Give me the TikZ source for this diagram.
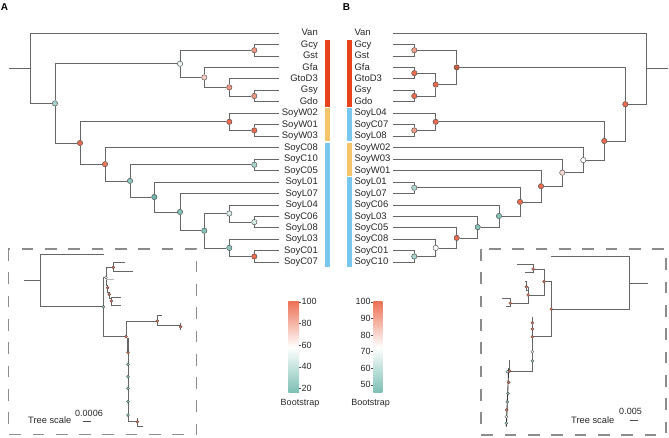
\documentclass[tikz,border=0pt]{standalone}
\usepackage{fontspec}
\setmainfont{Liberation Sans}
\definecolor{lineG}{HTML}{666666}
\definecolor{bsR}{HTML}{EC6B4E}
\definecolor{bsT}{HTML}{6DB8AC}
\definecolor{barR}{HTML}{E8421D}
\definecolor{barY}{HTML}{F6C46B}
\definecolor{barB}{HTML}{79C7EE}
\definecolor{boxG}{HTML}{8C8C8C}
\tikzset{
  br/.style={draw=lineG, line width=0.8pt},
  ib/.style={draw=lineG, line width=0.6pt},
  bsn/.style={circle, draw=black!70, line width=0.45pt, inner sep=0pt, minimum size=5.4pt},
  sdot/.style={circle, draw=black!70, line width=0.35pt, inner sep=0pt, minimum size=3pt},
  leafA/.style={anchor=mid east, inner sep=0pt, text=black!85, font=\fontsize{9.5}{11}\selectfont},
  leafB/.style={anchor=mid west, inner sep=0pt, text=black!85, font=\fontsize{9.5}{11}\selectfont},
  small/.style={inner sep=0pt, text=black!85, font=\fontsize{9}{10}\selectfont},
  dbox/.style={draw=boxG, line width=1.4pt, dash pattern=on 11.7pt off 11.6pt},
  gradbar/.style={top color=bsR!95!white, bottom color=bsT!90!white, middle color=white},
}
\begin{document}
\begin{tikzpicture}[x=1pt,y=-1pt]
\useasboundingbox (0,0) rectangle (669,437);
% panel letters
\node[font=\bfseries\fontsize{10}{12}\selectfont] (labA) at (4.5,7) {A};
\node[font=\bfseries\fontsize{10}{12}\selectfont] (labB) at (346.5,7) {B};

% ---------------- Tree A ----------------
\foreach \i/\nm in {0/Van,1/Gcy,2/Gst,3/Gfa,4/GtoD3,5/Gsy,6/Gdo,7/SoyW02,8/SoyW01,9/SoyW03,10/SoyC08,11/SoyC10,12/SoyC05,13/SoyL01,14/SoyL07,15/SoyL04,16/SoyC06,17/SoyL08,18/SoyL03,19/SoyC01,20/SoyC07}{
  \coordinate (la\i) at (279,{33+11.46*\i});
  \node[leafA] (ta\i) at (318,{33+11.46*\i}) {\nm};
}
\coordinate (sA) at (9,68.2);
\coordinate (rA) at (30,68.2);
\node[bsn, fill=bsT!60!white] (nA1) at (55,103.4) {};
\node[bsn, fill=bsT!15!white] (nA2) at (180,63.8) {};
\node[bsn, fill=bsR!70!white] (nA4) at (254.3,50.2) {};
\node[bsn, fill=bsR!35!white] (nA5) at (204.3,77.4) {};
\node[bsn, fill=bsR!70!white] (nA6) at (229.3,87.4) {};
\node[bsn, fill=bsR!70!white] (nA7) at (254.3,96.0) {};
\node[bsn, fill=bsR] (nA3) at (80,143) {};
\node[bsn, fill=bsR] (nA8) at (229.3,121.8) {};
\node[bsn, fill=bsR] (nA10) at (254.3,130.4) {};
\node[bsn, fill=bsR!92!white] (nA9) at (105,164.2) {};
\node[bsn, fill=bsT!80!white] (nA11) at (130,180.9) {};
\node[bsn, fill=bsT!60!white] (nA12) at (254.3,164.8) {};
\node[bsn, fill=bsT] (nA13) at (154.3,197) {};
\node[bsn, fill=bsT!85!white] (nA14) at (180,212) {};
\node[bsn, fill=bsT!85!white] (nA15) at (204.3,230.7) {};
\node[bsn, fill=bsT!25!white] (nA16) at (229.3,213.5) {};
\node[bsn, fill=bsT!30!white] (nA18) at (254.3,222.1) {};
\node[bsn, fill=bsT!80!white] (nA17) at (229.3,247.9) {};
\node[bsn, fill=bsR] (nA19) at (254.3,256.5) {};
\draw[br] (sA) -- (rA);
\foreach \p/\c in {rA/la0,rA/nA1,nA1/nA2,nA1/nA3,nA2/nA4,nA2/nA5,nA4/la1,nA4/la2,nA5/la3,nA5/nA6,nA6/la4,nA6/nA7,nA7/la5,nA7/la6,
  nA3/nA8,nA3/nA9,nA8/la7,nA8/nA10,nA10/la8,nA10/la9,nA9/la10,nA9/nA11,nA11/nA12,nA11/nA13,nA12/la11,nA12/la12,
  nA13/la13,nA13/nA14,nA14/la14,nA14/nA15,nA15/nA16,nA15/nA17,nA16/la15,nA16/nA18,nA18/la16,nA18/la17,nA17/la18,nA17/nA19,nA19/la19,nA19/la20}{
  \draw[br] (\p) |- (\c);
}
% clade bars A
\fill[barR] (325,39.5) rectangle (330,106.7);
\fill[barY] (325,108.2) rectangle (330,141.1);
\fill[barB] (325,142.6) rectangle (330,267.4);

% ---------------- Tree B ----------------
\foreach \i/\nm in {0/Van,1/Gcy,2/Gst,3/Gfa,4/GtoD3,5/Gsy,6/Gdo,7/SoyL04,8/SoyC07,9/SoyL08,10/SoyW02,11/SoyW03,12/SoyW01,13/SoyL01,14/SoyL07,15/SoyC06,16/SoyL03,17/SoyC05,18/SoyC08,19/SoyC01,20/SoyC10}{
  \coordinate (lb\i) at (393.3,{33+11.46*\i});
  \node[leafB] (tb\i) at (354.3,{33+11.46*\i}) {\nm};
}
\coordinate (sB) at (668,68.6);
\coordinate (rB) at (646.7,68.6);
\node[bsn, fill=bsR] (nB1) at (625.3,104.2) {};
\node[bsn, fill=bsR!85!black] (nB2) at (456.7,67.4) {};
\node[bsn, fill=bsR!65!white] (nB4) at (414.3,50.2) {};
\node[bsn, fill=bsR] (nB5) at (435.7,84.6) {};
\node[bsn, fill=bsR] (nB6) at (414.3,73.1) {};
\node[bsn, fill=bsR] (nB7) at (414.3,96.0) {};
\node[bsn, fill=bsR] (nB3) at (604.3,141) {};
\node[bsn, fill=bsR] (nB8) at (435.7,121.8) {};
\node[bsn, fill=bsR!65!white] (nB10) at (414.3,130.4) {};
\node[bsn, fill=bsT!6!white] (nB9) at (583.3,160.1) {};
\node[bsn, fill=bsR!25!white] (nB11) at (562.3,172.7) {};
\node[bsn, fill=bsR] (nB12) at (541,186.2) {};
\node[bsn, fill=bsR] (nB13) at (520,201.9) {};
\node[bsn, fill=bsT!55!white] (nB14) at (414.3,187.7) {};
\node[bsn, fill=bsT!85!white] (nB15) at (499,216) {};
\node[bsn, fill=bsT!85!white] (nB16) at (477.7,227.1) {};
\node[bsn, fill=bsR] (nB17) at (456.7,237.9) {};
\node[bsn, fill=bsT!6!white] (nB18) at (435.7,247.9) {};
\node[bsn, fill=bsT!60!white] (nB19) at (414.3,256.5) {};
\draw[br] (sB) -- (rB);
\foreach \p/\c in {rB/lb0,rB/nB1,nB1/nB2,nB1/nB3,nB2/nB4,nB2/nB5,nB4/lb1,nB4/lb2,nB5/nB6,nB5/nB7,nB6/lb3,nB6/lb4,nB7/lb5,nB7/lb6,
  nB3/nB8,nB3/nB9,nB8/lb7,nB8/nB10,nB10/lb8,nB10/lb9,nB9/lb10,nB9/nB11,nB11/lb11,nB11/nB12,nB12/lb12,nB12/nB13,
  nB13/nB14,nB13/nB15,nB14/lb13,nB14/lb14,nB15/lb15,nB15/nB16,nB16/lb16,nB16/nB17,nB17/lb17,nB17/nB18,nB18/lb18,nB18/nB19,nB19/lb19,nB19/lb20}{
  \draw[br] (\p) |- (\c);
}
% clade bars B
\fill[barR] (346.7,39.5) rectangle (351.7,106.7);
\fill[barB] (346.7,108.2) rectangle (351.7,141.1);
\fill[barY] (346.7,142.6) rectangle (351.7,175.5);
\fill[barB] (346.7,177.0) rectangle (351.7,267.4);

% ---------------- Legends ----------------
\shade[gradbar] (288.3,301.7) rectangle (299,392.7);
\foreach \v/\yy in {100/301.7,80/323.3,60/345,40/366.7,20/388.3}{
  \draw[black!70, line width=0.4pt] (299,\yy) -- (301,\yy);
  \node[small, anchor=west] at (301.3,\yy) {\v};
}
\node[small] (bootA) at (300,403.5) {Bootstrap};
\shade[gradbar] (373.3,301.7) rectangle (382.3,392.7);
\foreach \v/\yy in {100/301.7,90/318.3,80/334.9,70/351.5,60/368.1,50/384.7}{
  \draw[black!70, line width=0.4pt] (371.2,\yy) -- (373.3,\yy);
  \node[small, anchor=east] at (370.9,\yy) {\v};
}
\node[small] (bootB) at (370.7,403.5) {Bootstrap};

% ---------------- Inset A ----------------
\draw[dbox] (8.3,249) rectangle (196.5,434.5);
\begin{scope}[shift={(0,245)}, scale=1/3]
  \draw[ib] (72,105) -- (120,105);
  \draw[ib] (312,28) -| (120,185) -- (310,185);
  \draw[ib] (310,97) -- (310,275) -- (378,275);
  \draw[ib] (310,97) -- (318,97);
  \draw[ib] (375,52) -| (340,78) -- (398,78);
  \draw[ib] (318,67) -- (340,67);
  \draw[ib] (318,67) -- (318,122) -- (323,122) -- (323,142) -- (328,142) -- (328,160) -- (334,160);
  \draw[ib, draw=lineG!45] (318,103) -- (342,103);
  \draw[ib] (362,158) -| (334,180) -- (362,180);
  \draw[ib] (378,275) -- (378,228) -- (472,228);
  \draw[ib] (486,210) -| (472,240) -- (542,240);
  \draw[ib] (542,233) -- (542,256);
  \draw[ib] (381,280) -- (381,322);
  \draw[ib] (384,280) -- (384,530) -- (412,530);
  \draw[ib] (412,520) -- (412,545) -- (428,545);
  \foreach \px/\py/\cc in {310/185/bsT!80!white,318/98/bsT!10!white,340/67/bsR,323/128/bsR,328/148/bsR,334/168/bsR,378/275/bsR,472/228/bsR,542/245/bsR,384/322/bsR,384/358/bsT!80!white,384/395/bsT!80!white,384/430/bsT!80!white,384/470/bsT!80!white,384/510/bsT!80!white,412/530/bsR}{
    \node[sdot, fill=\cc] at (\px,\py) {};
  }
\end{scope}
\node[small, anchor=west, font=\fontsize{9.3}{10}\selectfont] (tsA) at (28,420) {Tree scale};
\draw[black!70, line width=0.6pt] (82.7,421.7) -- (90.7,421.7);
\node[small] (tsvA) at (89,413) {0.0006};

% ---------------- Inset B ----------------
\draw[dbox] (481,249) rectangle (666,435);
\begin{scope}[shift={(478,245)}, scale=1/3]
  \draw[ib] (455,115) -- (510,115);
  \draw[ib] (220,33) -| (455,193) -- (220,193);
  \draw[ib] (198,110) -| (220,275) -- (163,275);
  \draw[ib] (165,72) -| (198,150) -- (150,150);
  \draw[ib] (118,58) -| (165,82) -- (140,82);
  \draw[ib] (150,125) -- (150,175) -- (97,175);
  \draw[ib] (140,110) -- (145,110) -- (145,135) -- (150,135);
  \draw[ib] (72,160) -| (97,185) -- (85,185);
  \draw[ib] (163,215) -- (163,378) -- (95,378);
  \draw[ib] (95,345) -- (95,378);
  \draw[draw=black!80, line width=0.9pt] (92,370) -- (85,545);
  \foreach \px/\py/\cc in {220/193/bsR,198/110/bsR,165/72/bsR,150/150/bsR,145/125/bsR,97/175/bsR,163/233/bsR,163/252/bsR,163/275/bsR,163/320/white,163/348/bsT!80!white,95/378/bsR,88/380/bsT!30!white,92/412/bsR,90/445/bsT!80!white,88/470/bsT!80!white,86/495/bsR,85/515/white,85/535/bsT!80!white}{
    \node[sdot, fill=\cc] at (\px,\py) {};
  }
\end{scope}
\node[small, anchor=west, font=\fontsize{9.3}{10}\selectfont] (tsB) at (571,420) {Tree scale};
\draw[black!70, line width=0.6pt] (629.7,420.5) -- (638,420.5);
\node[small] (tsvB) at (630.5,411.5) {0.005};
\end{tikzpicture}
\end{document}
